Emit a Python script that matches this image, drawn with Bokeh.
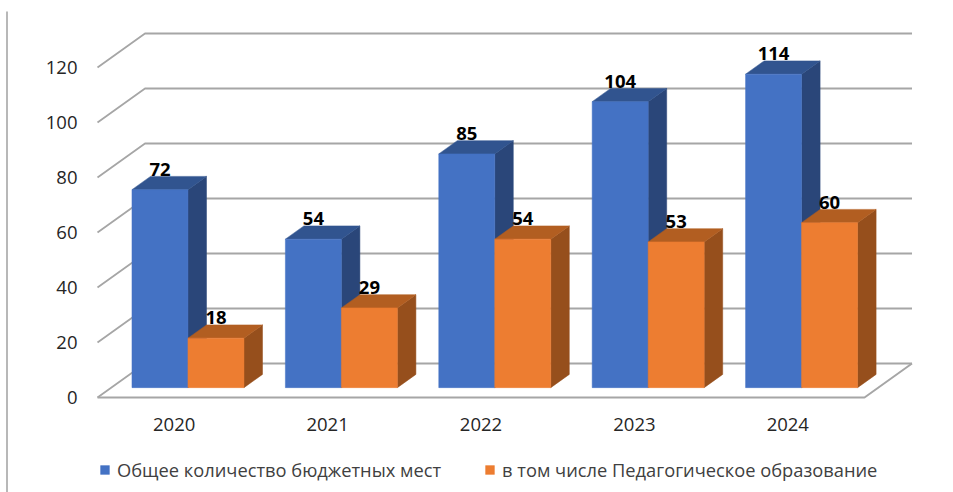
from bokeh.plotting import figure
from bokeh.embed import file_html
from bokeh.resources import INLINE
from bokeh.models import LinearAxis, FixedTicker, Range1d, Legend, LegendItem, ColumnDataSource
from bokeh.core.properties import value

# ---- data ----
years = ["2020", "2021", "2022", "2023", "2024"]
total_places = [72, 54, 85, 104, 114]
pedagogical_places = [18, 29, 54, 53, 60]
y_ticks = [0, 20, 40, 60, 80, 100, 120]
series_names = ["Общее количество бюджетных мест", "в том числе Педагогическое образование"]

# ---- scale of the page: pixels per data unit, and where data 0 sits ----
W, H = 953, 492
PX_X, PX_Y = 153.4, 2.75
X0_PX, Y0_PX = 173.7, 397.0
# oblique projection: depth z in [0, 1] shifts a point by these data amounts
DEPTH_X, DEPTH_Y = 47.5 / PX_X, 34.0 / PX_Y
Z_FRONT, Z_BACK = 0.29, 0.68
BAR_W = 56 / PX_X


def proj(x, v, z):
    return x + z * DEPTH_X, v + z * DEPTH_Y


def xpx(px):
    return (px - X0_PX) / PX_X


def ypx(py):
    return (Y0_PX - py) / PX_Y


p = figure(width=W, height=H, output_backend="svg", toolbar_location=None,
           x_range=Range1d(xpx(0), xpx(W)), y_range=Range1d(ypx(H), ypx(0)),
           x_axis_type=None, y_axis_type=None, min_border=0, outline_line_color=None,
           background_fill_color="white", border_fill_color="white", margin=0)
p.grid.visible = False

GRID = "#a6a6a6"
x_left, x_right = -0.5, len(years) - 0.5

# walls and floor
for v in y_ticks:
    a = proj(x_left, v, 0)
    b = proj(x_left, v, 1)
    c = proj(x_right, v, 1)
    p.line([a[0], b[0], c[0]], [a[1], b[1], c[1]], line_color=GRID, line_width=1.8)
a, b, c, d = proj(x_left, 0, 0), proj(x_right, 0, 0), proj(x_right, 0, 1), proj(x_left, 0, 1)
p.line([a[0], b[0], c[0]], [a[1], b[1], c[1]], line_color=GRID, line_width=2)

# the rule at the far left of the image
p.line([xpx(6.5), xpx(6.5)], [ypx(11), ypx(H)], line_color="#a0a0a0", line_width=1.5)

# bars
styles = [("#4472c4", "#31548f", "#2a4679"), ("#ed7d31", "#b25e21", "#964f1c")]
all_series = [total_places, pedagogical_places]
legend_items = []
labels = {"x": [], "y": [], "t": []}
for k, (vals, (front, top, side)) in enumerate(zip(all_series, styles)):
    fl, fb, ft, fr = [], [], [], []
    tx, ty, sx, sy = [], [], [], []
    for i, v in enumerate(vals):
        left = i - BAR_W + k * BAR_W
        right = left + BAR_W
        l0, b0 = proj(left, 0, Z_FRONT)
        r0, t0 = proj(right, v, Z_FRONT)
        fl.append(l0); fr.append(r0); fb.append(b0); ft.append(t0)
        pts = [proj(left, v, Z_FRONT), proj(right, v, Z_FRONT), proj(right, v, Z_BACK), proj(left, v, Z_BACK)]
        tx.append([q[0] for q in pts]); ty.append([q[1] for q in pts])
        pts = [proj(right, 0, Z_FRONT), proj(right, v, Z_FRONT), proj(right, v, Z_BACK), proj(right, 0, Z_BACK)]
        sx.append([q[0] for q in pts]); sy.append([q[1] for q in pts])
        labels["x"].append((l0 + r0) / 2)
        labels["y"].append(proj(left, v, Z_BACK)[1])
        labels["t"].append(str(v))
    p.patches(sx, sy, fill_color=side, line_color=side, line_width=0.5)
    p.patches(tx, ty, fill_color=top, line_color=top, line_width=0.5)
    r = p.quad(left=fl, right=fr, bottom=fb, top=ft, fill_color=front, line_color=front, line_width=0.5)
    legend_items.append(LegendItem(label=series_names[k], renderers=[r]))

p.text(x="x", y="y", text="t", source=ColumnDataSource(labels), text_align="center",
       text_baseline="alphabetic", text_color="#000000", text_font=value("Open Sans"),
       text_font_size="18.5px", text_font_style="bold", y_offset=-7)

# axes, placed on the front plane of the chart
yax = LinearAxis(ticker=FixedTicker(ticks=y_ticks), fixed_location=x_left)
yax.axis_line_color = None
yax.major_tick_line_color = None
yax.minor_tick_line_color = None
yax.major_label_standoff = 14
yax.major_label_text_font = "Open Sans"
yax.major_label_text_font_size = "18.5px"
yax.major_label_text_color = "#262626"
p.add_layout(yax, "left")

xax = LinearAxis(ticker=FixedTicker(ticks=list(range(len(years)))), fixed_location=0,
                 major_label_overrides={i: y for i, y in enumerate(years)})
xax.axis_line_color = None
xax.major_tick_line_color = None
xax.minor_tick_line_color = None
xax.major_label_standoff = 14
xax.major_label_text_font = "Open Sans"
xax.major_label_text_font_size = "18.5px"
xax.major_label_text_color = "#262626"
p.add_layout(xax, "below")

legend = Legend(items=legend_items, orientation="horizontal", location=(99, 10),
                border_line_color=None, background_fill_alpha=0,
                glyph_width=11, glyph_height=11, label_standoff=7, spacing=43,
                padding=4, margin=0,
                label_text_font="Open Sans", label_text_font_size="18.3px", label_text_color="#404040")
p.add_layout(legend, "center")

open("out.html", "w").write(file_html(p, INLINE))
